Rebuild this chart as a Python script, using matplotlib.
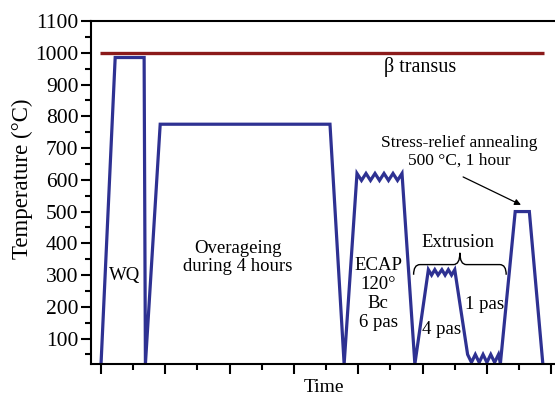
import numpy as np
import matplotlib
matplotlib.use('Agg')
import matplotlib.pyplot as plt
from matplotlib.path import Path
from matplotlib.patches import PathPatch

plt.rcParams['font.family'] = ['Liberation Serif', 'DejaVu Serif']

# 热处理路线（时间为示意单位，温度 °C）
time_pts = [0.00, 0.22, 0.67, 0.69, 0.92, 3.56, 3.78,
            3.98, 4.05, 4.12, 4.19, 4.26, 4.33, 4.40, 4.47, 4.54, 4.61, 4.68,
            4.88,
            5.09, 5.14, 5.19, 5.24, 5.30, 5.35, 5.40, 5.45, 5.50,
            5.70, 5.76, 5.82, 5.88, 5.94, 6.00, 6.06, 6.12, 6.18, 6.21,
            6.44, 6.66, 6.87]
temp_pts = [20, 985, 985, 20, 775, 775, 20,
            620, 598, 620, 598, 620, 598, 620, 598, 620, 598, 620,
            20,
            317, 300, 317, 300, 317, 300, 317, 300, 317,
            50, 25, 50, 25, 50, 25, 50, 25, 50, 22,
            500, 500, 20]

beta_transus = 1000
beta_x = [-0.02, 6.89]

yticks = [100, 200, 300, 400, 500, 600, 700, 800, 900, 1000, 1100]
xticks = [0, 1, 2, 3, 4, 5, 6, 7]

blue = '#2E3192'
red = '#8B1A1A'

fig = plt.figure(figsize=(5.55, 3.98), dpi=100)
ax = fig.add_axes([91 / 555, 34 / 398, 466 / 555, 343 / 398])

ax.plot(beta_x, [beta_transus, beta_transus], color=red, lw=2.4, solid_capstyle='butt')
ax.plot(time_pts, temp_pts, color=blue, lw=2.3, solid_joinstyle='miter')

ax.set_xlim(-0.156, 7.09)
ax.set_ylim(20, 1100)

ax.set_yticks(yticks)
ax.set_yticks(np.arange(50, 1100, 100), minor=True)
ax.set_xticks(xticks)
ax.set_xticks(np.arange(0.5, 7, 1), minor=True)
ax.set_xticklabels([])
ax.tick_params(axis='both', which='major', direction='out', length=7, width=1.5, labelsize=15.5)
ax.tick_params(axis='both', which='minor', direction='out', length=4, width=1.5)
ax.tick_params(axis='y', pad=2)

for s in ['left', 'bottom', 'top']:
    ax.spines[s].set_linewidth(1.5)
ax.spines['right'].set_visible(False)

ax.set_ylabel('Temperature (°C)', fontsize=16.5)
ax.yaxis.set_label_coords(-0.124, 0.54)
ax.set_xlabel('Time', fontsize=14, labelpad=0)

fs = 13.5
ax.text(4.96, 955, 'β transus', ha='center', va='center', fontsize=14.5)
ax.text(0.37, 298, 'WQ', ha='center', va='center', fontsize=fs)
ax.text(2.13, 355, 'Overageing\nduring 4 hours', ha='center', va='center', fontsize=fs,
        linespacing=1.05)
ax.text(4.31, 241, 'ECAP\n120°\nBc\n6 pas', ha='center', va='center', fontsize=fs,
        linespacing=1.15)
ax.text(5.55, 402, 'Extrusion', ha='center', va='center', fontsize=fs)
ax.text(5.30, 128, '4 pas', ha='center', va='center', fontsize=fs)
ax.text(5.96, 207, '1 pas', ha='center', va='center', fontsize=fs)
ax.text(5.57, 688, 'Stress-relief annealing\n500 °C, 1 hour', ha='center', va='center',
        fontsize=12.5, linespacing=1.15)
ax.annotate('', xy=(6.53, 521), xytext=(5.63, 609),
            arrowprops=dict(arrowstyle='-|>', color='black', lw=0.9,
                            mutation_scale=9, shrinkA=0, shrinkB=0))

# 花括号
verts = [(4.86, 301), (4.86, 333), (4.96, 333), (5.48, 333), (5.58, 333), (5.58, 370),
         (5.58, 333), (5.68, 333), (6.20, 333), (6.30, 333), (6.30, 301)]
codes = [Path.MOVETO, Path.CURVE3, Path.CURVE3, Path.LINETO, Path.CURVE3, Path.CURVE3,
         Path.CURVE3, Path.CURVE3, Path.LINETO, Path.CURVE3, Path.CURVE3]
ax.add_patch(PathPatch(Path(verts, codes), fill=False, color='black', lw=1.0))

fig.savefig('out.png', dpi=100)
